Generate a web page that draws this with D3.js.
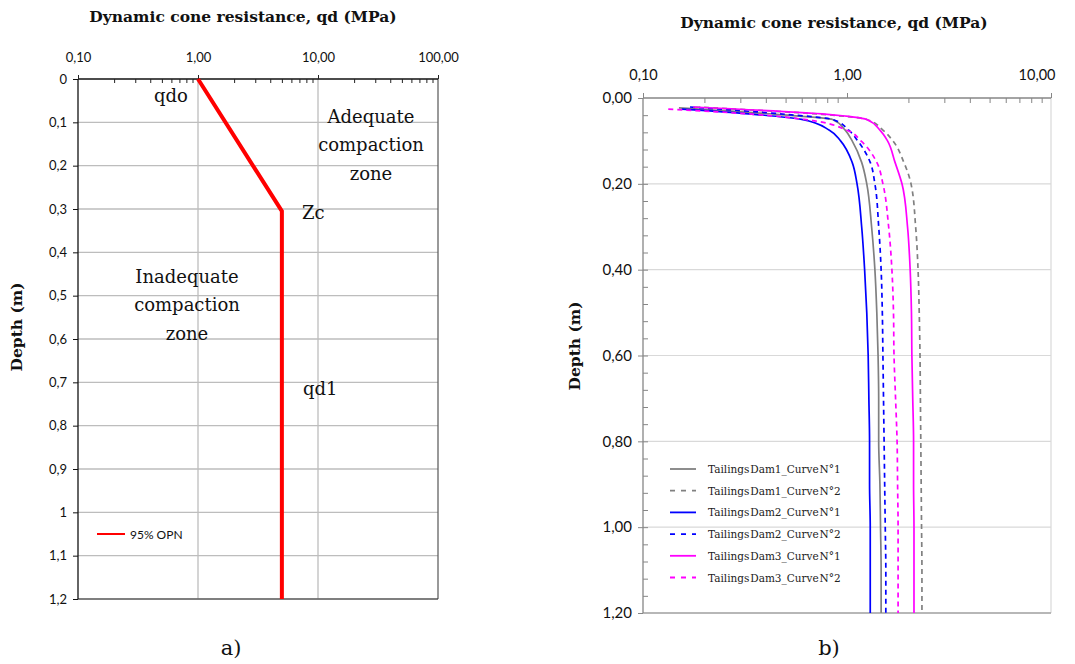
<!DOCTYPE html>
<html>
<head>
<meta charset="utf-8">
<script src="https://cdn.jsdelivr.net/npm/d3@7"></script>
<style>
  body { margin: 0; background: #fff; }
  svg { display: block; }
</style>
</head>
<body>
<div id="chart"></div>
<script>
// ---- data: panel a) ----
const refDepth = [0, 0.305, 1.2];
const refQd = [1.0, 5.0, 5.0];
const leftXTicks = [0.1, 1, 10, 100];
const leftYTicks = [0, 0.1, 0.2, 0.3, 0.4, 0.5, 0.6, 0.7, 0.8, 0.9, 1.0, 1.1, 1.2];

// ---- data: panel b) ----
const seriesNames = [
  "Tailings Dam1_Curve N°1", "Tailings Dam1_Curve N°2",
  "Tailings Dam2_Curve N°1", "Tailings Dam2_Curve N°2",
  "Tailings Dam3_Curve N°1", "Tailings Dam3_Curve N°2"
];
const seriesColors = ["#808080", "#808080", "#0000ff", "#0000ff", "#ff00ff", "#ff00ff"];
const seriesDashed = [false, true, false, true, false, true];
const startDepth = [0.023, 0.021, 0.026, 0.021, 0.021, 0.026];
const depths = [0.038, 0.05, 0.075, 0.1, 0.15, 0.2, 0.3, 0.4, 0.5, 0.6, 0.7, 0.8, 0.9, 1.0, 1.1, 1.2];
const dam1c1 = [0.15, 0.45, 0.85, 0.98, 1.06, 1.18, 1.25, 1.32, 1.37, 1.40, 1.42, 1.43, 1.43, 1.45, 1.46, 1.47, 1.47];
const dam1c2 = [0.18, 0.75, 1.25, 1.50, 1.68, 1.90, 2.06, 2.17, 2.23, 2.26, 2.28, 2.29, 2.30, 2.31, 2.32, 2.33, 2.33];
const dam2c1 = [0.155, 0.35, 0.60, 0.82, 0.93, 1.06, 1.12, 1.18, 1.22, 1.25, 1.27, 1.28, 1.29, 1.29, 1.30, 1.30, 1.30];
const dam2c2 = [0.17, 0.50, 0.85, 1.02, 1.13, 1.30, 1.37, 1.43, 1.47, 1.49, 1.50, 1.51, 1.52, 1.53, 1.54, 1.55, 1.55];
const dam3c1 = [0.176, 0.80, 1.25, 1.45, 1.58, 1.72, 1.86, 1.98, 2.04, 2.07, 2.08, 2.10, 2.12, 2.12, 2.13, 2.13, 2.13];
const dam3c2 = [0.133, 0.35, 0.62, 1.00, 1.17, 1.40, 1.50, 1.60, 1.66, 1.69, 1.70, 1.73, 1.76, 1.77, 1.78, 1.78, 1.78];
const seriesQd = [dam1c1, dam1c2, dam2c1, dam2c2, dam3c1, dam3c2];
const rightXTicks = [0.1, 1, 10];
const rightYTicks = [0, 0.2, 0.4, 0.6, 0.8, 1.0, 1.2];

const W = 1075, H = 664;
const serif = "'DejaVu Serif', serif";
const sans = "Lato, 'Open Sans', sans-serif";
const comma = s => s.replace(".", ",");

const svg = d3.select("#chart").append("svg")
  .attr("width", W).attr("height", H);
svg.append("rect").attr("width", W).attr("height", H).attr("fill", "#fff");

// minor log ticks 2..9 per decade
function minorTicks(lo, hi) {
  const out = [];
  for (let d = lo; d < hi; d *= 10)
    for (let k = 2; k <= 9; k++) out.push(d * k);
  return out;
}

// ===================== panel a) =====================
const xL = d3.scaleLog().domain([0.1, 100]).range([78, 438]);
const yL = d3.scaleLinear().domain([0, 1.2]).range([79, 599]);
const gA = svg.append("g");

// grid
gA.selectAll(".hg").data(leftYTicks.slice(1)).join("line")
  .attr("x1", 78).attr("x2", 438)
  .attr("y1", d => yL(d)).attr("y2", d => yL(d))
  .attr("stroke", "#bdbdbd").attr("stroke-width", 1.3);
gA.selectAll(".vg").data([1, 10]).join("line")
  .attr("x1", d => xL(d)).attr("x2", d => xL(d))
  .attr("y1", 79).attr("y2", 599)
  .attr("stroke", "#bdbdbd").attr("stroke-width", 1.3);

// frame right / bottom
gA.append("line").attr("x1", 438).attr("x2", 438).attr("y1", 79).attr("y2", 599)
  .attr("stroke", "#555").attr("stroke-width", 1.2);
gA.append("line").attr("x1", 78).attr("x2", 438).attr("y1", 599).attr("y2", 599)
  .attr("stroke", "#333").attr("stroke-width", 1.2);

// top axis
const topA = gA.append("g").attr("transform", "translate(0,79)")
  .call(d3.axisTop(xL).tickValues(leftXTicks).tickSize(4).tickPadding(13)
    .tickFormat(d => comma(d3.format(".2f")(d))));
const topAMinor = topA.append("g")
  .call(d3.axisTop(xL).tickValues(minorTicks(0.1, 100)).tickSize(-4).tickFormat(""));
topAMinor.select(".domain").remove();
topA.selectAll("line").attr("stroke", "#222");
topA.select(".domain").attr("stroke", "#111").attr("stroke-width", 1.3).attr("d", "M78,0H438");
topA.selectAll("text").attr("font-family", sans).attr("font-size", 13).attr("fill", "#111");

// left axis
const leftA = gA.append("g").attr("transform", "translate(78,0)")
  .call(d3.axisLeft(yL).tickValues(leftYTicks).tickSize(5).tickPadding(6)
    .tickFormat(d => comma(d3.format("~g")(d))));
leftA.select(".domain").attr("stroke", "#111").attr("stroke-width", 1.3).attr("d", "M0,79V599");
leftA.selectAll("line").attr("stroke", "#111");
leftA.selectAll("text").attr("font-family", sans).attr("font-size", 13).attr("fill", "#111");

// reference line
gA.append("path")
  .datum(refQd.map((q, i) => [q, refDepth[i]]))
  .attr("d", d3.line().x(d => xL(d[0])).y(d => yL(d[1])))
  .attr("fill", "none").attr("stroke", "#ff0000").attr("stroke-width", 4);

// annotations
function label(g, x, y, txt, size, anchor) {
  g.append("text").attr("x", x).attr("y", y).text(txt)
    .attr("font-family", serif).attr("font-size", size)
    .attr("text-anchor", anchor || "middle").attr("fill", "#111");
}
label(gA, 171, 102, "qdo", 18);
label(gA, 371, 123, "Adequate", 18);
label(gA, 371, 151, "compaction", 18);
label(gA, 371, 180, "zone", 18);
label(gA, 302, 219, "Zc", 18, "start");
label(gA, 187, 283, "Inadequate", 18);
label(gA, 187, 311, "compaction", 18);
label(gA, 187, 340, "zone", 18);
label(gA, 303, 395, "qd1", 18, "start");

// legend
gA.append("line").attr("x1", 97).attr("x2", 125).attr("y1", 534).attr("y2", 534)
  .attr("stroke", "#ff0000").attr("stroke-width", 2);
gA.append("text").attr("x", 130).attr("y", 538.5).text("95% OPN")
  .attr("font-family", sans).attr("font-size", 12).attr("fill", "#111");

// titles
gA.append("text").attr("x", 243).attr("y", 22).text("Dynamic cone resistance, qd (MPa)")
  .attr("font-family", serif).attr("font-weight", "bold").attr("font-size", 15.5)
  .attr("text-anchor", "middle").attr("fill", "#111");
gA.append("text").attr("transform", "translate(22,327) rotate(-90)").text("Depth (m)")
  .attr("font-family", serif).attr("font-weight", "bold").attr("font-size", 15.5)
  .attr("text-anchor", "middle").attr("fill", "#111");
label(gA, 231, 655, "a)", 21);

// ===================== panel b) =====================
const xR = d3.scaleLog().domain([0.1, 10]).range([643, 1051]);
const yR = d3.scaleLinear().domain([0, 1.2]).range([98, 613]);
const gB = svg.append("g");

gB.selectAll(".hg").data(rightYTicks.slice(1)).join("line")
  .attr("x1", 643).attr("x2", 1051)
  .attr("y1", d => yR(d)).attr("y2", d => yR(d))
  .attr("stroke", "#d9d9d9").attr("stroke-width", 1.2);
gB.append("line").attr("x1", 1051).attr("x2", 1051).attr("y1", 98).attr("y2", 613)
  .attr("stroke", "#d9d9d9").attr("stroke-width", 1.2);
gB.append("line").attr("x1", 643).attr("x2", 1051).attr("y1", 613).attr("y2", 613)
  .attr("stroke", "#a6a6a6").attr("stroke-width", 1.3);

// top axis
const topB = gB.append("g").attr("transform", "translate(0,98)")
  .call(d3.axisTop(xR).tickValues(rightXTicks).tickSize(5).tickPadding(13)
    .tickFormat(d => comma(d3.format(".2f")(d))));
const topBMinor = topB.append("g")
  .call(d3.axisTop(xR).tickValues(minorTicks(0.1, 10)).tickSize(-5).tickFormat(""));
topBMinor.select(".domain").remove();
topB.selectAll("line").attr("stroke", "#868686");
topB.select(".domain").attr("stroke", "#868686").attr("stroke-width", 1.3).attr("d", "M643,0H1051");
topB.selectAll("text").attr("font-family", sans).attr("font-size", 14.5).attr("fill", "#111");
topB.selectAll("g.tick text").filter(d => d === 10).attr("text-anchor", "end").attr("dx", 4);

// left axis
const leftB = gB.append("g").attr("transform", "translate(643,0)")
  .call(d3.axisLeft(yR).tickValues(rightYTicks).tickSize(5).tickPadding(6)
    .tickFormat(d => comma(d3.format(".2f")(d))));
const leftBMinor = leftB.append("g")
  .call(d3.axisLeft(yR).tickValues(d3.range(0.04, 1.2, 0.04)).tickSize(-5).tickFormat(""));
leftBMinor.select(".domain").remove();
leftB.selectAll("line").attr("stroke", "#868686");
leftB.select(".domain").attr("stroke", "#868686").attr("stroke-width", 1.3).attr("d", "M0,98V613");
leftB.selectAll("text").attr("font-family", sans).attr("font-size", 15).attr("fill", "#111");

// curves
const lineR = d3.line().curve(d3.curveMonotoneY).x(d => xR(d[0])).y(d => yR(d[1]));
seriesQd.forEach((qs, s) => {
  const pts = qs.map((q, i) => [q, i === 0 ? startDepth[s] : depths[i - 1]]);
  gB.append("path").datum(pts).attr("d", lineR)
    .attr("fill", "none").attr("stroke", seriesColors[s]).attr("stroke-width", 1.7)
    .attr("stroke-dasharray", seriesDashed[s] ? "5,4" : null);
});

// legend
const leg = gB.selectAll(".leg").data(seriesNames).join("g")
  .attr("transform", (d, i) => `translate(670,${469 + i * 21.7})`);
leg.append("line").attr("x1", 0).attr("x2", 26).attr("y1", 0).attr("y2", 0)
  .attr("stroke", (d, i) => seriesColors[i]).attr("stroke-width", 1.8)
  .attr("stroke-dasharray", (d, i) => seriesDashed[i] ? "5,6" : null);
leg.append("text").attr("x", 38).attr("y", 4).text(d => d)
  .attr("font-family", serif).attr("font-size", 10.5).attr("word-spacing", -2.5)
  .attr("fill", "#222");

gB.append("text").attr("x", 834).attr("y", 28).text("Dynamic cone resistance, qd (MPa)")
  .attr("font-family", serif).attr("font-weight", "bold").attr("font-size", 15.5)
  .attr("text-anchor", "middle").attr("fill", "#111");
gB.append("text").attr("transform", "translate(580,346) rotate(-90)").text("Depth (m)")
  .attr("font-family", serif).attr("font-weight", "bold").attr("font-size", 15.5)
  .attr("text-anchor", "middle").attr("fill", "#111");
label(gB, 829, 655, "b)", 21);
</script>
</body>
</html>
